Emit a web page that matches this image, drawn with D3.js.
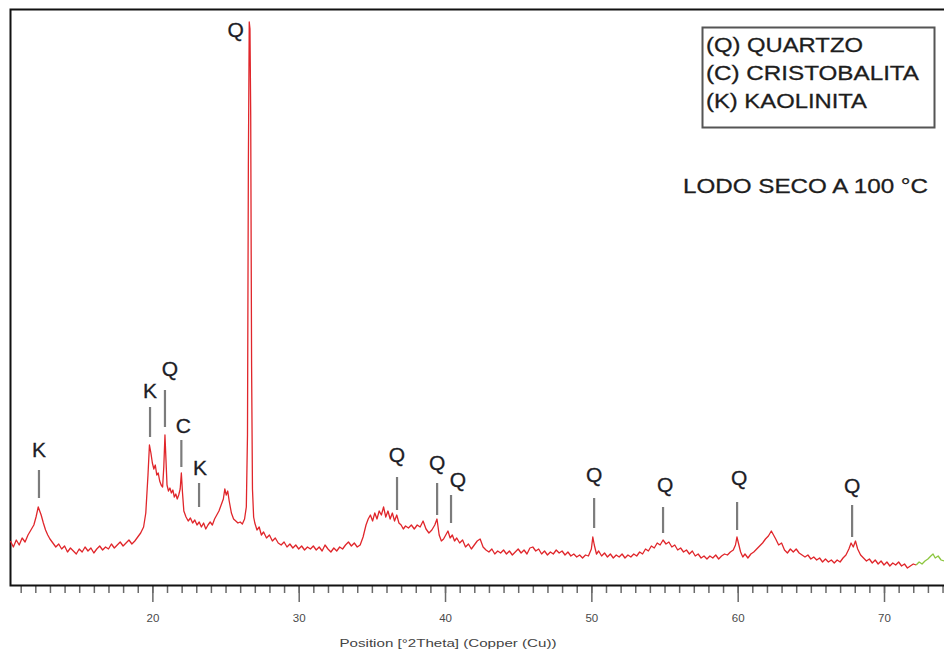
<!DOCTYPE html>
<html>
<head>
<meta charset="utf-8">
<script src="https://cdn.jsdelivr.net/npm/d3@7"></script>
<style>
  html, body { margin: 0; padding: 0; background: #fff; }
  svg { display: block; font-family: "Liberation Sans", Arial, sans-serif; }
</style>
</head>
<body>
<svg id="xrd" width="944" height="652"></svg>
<script>
// XRD pattern — "LODO SECO A 100 °C".
// [2θ (°), intensity in arbitrary units].
const pattern = [
  [10.3, 44], [10.5, 38], [10.7, 45], [10.9, 40], [11.1, 47], [11.3, 43], [11.5, 50], [11.7, 55],
  [11.9, 60], [12.05, 68], [12.2, 78], [12.3, 74], [12.4, 70], [12.55, 62], [12.7, 55], [12.85, 50],
  [13.0, 46], [13.2, 42], [13.4, 38], [13.6, 41], [13.8, 36], [14.0, 39], [14.2, 33], [14.4, 37],
  [14.6, 34], [14.8, 31], [15.0, 36], [15.2, 33], [15.4, 38], [15.6, 34], [15.8, 37], [16.0, 32],
  [16.2, 36], [16.4, 39], [16.6, 35], [16.8, 38], [17.0, 36], [17.2, 41], [17.4, 37], [17.6, 40],
  [17.8, 43], [18.0, 39], [18.2, 42], [18.4, 45], [18.6, 41], [18.8, 44], [19.0, 48], [19.2, 52],
  [19.4, 58], [19.55, 72], [19.7, 110], [19.8, 140], [19.9, 132], [20.0, 122], [20.1, 116], [20.2, 120],
  [20.3, 110], [20.4, 112], [20.5, 104], [20.6, 100], [20.7, 98], [20.78, 118], [20.86, 150], [20.93, 125],
  [21.0, 100], [21.1, 94], [21.2, 97], [21.3, 92], [21.4, 95], [21.5, 88], [21.6, 91], [21.7, 86],
  [21.8, 90], [21.9, 96], [21.98, 112], [22.06, 92], [22.15, 74], [22.3, 68], [22.45, 64], [22.6, 67],
  [22.75, 62], [22.9, 65], [23.05, 60], [23.2, 63], [23.35, 58], [23.5, 62], [23.65, 56], [23.8, 60],
  [23.95, 63], [24.1, 60], [24.25, 66], [24.4, 70], [24.55, 74], [24.7, 80], [24.85, 86], [24.95, 96],
  [25.05, 90], [25.15, 94], [25.25, 84], [25.4, 72], [25.55, 66], [25.7, 64], [25.85, 62], [26.0, 63],
  [26.15, 61], [26.3, 66], [26.42, 78], [26.5, 150], [26.56, 420], [26.62, 563], [26.67, 556], [26.72, 470],
  [26.78, 220], [26.84, 96], [26.92, 68], [27.0, 62], [27.15, 55], [27.3, 58], [27.45, 50], [27.6, 53],
  [27.8, 47], [28.0, 50], [28.2, 44], [28.4, 47], [28.6, 42], [28.8, 40], [29.0, 43], [29.2, 38],
  [29.4, 41], [29.6, 37], [29.8, 40], [30.0, 36], [30.2, 39], [30.4, 35], [30.6, 38], [30.8, 36],
  [31.0, 39], [31.2, 35], [31.4, 38], [31.6, 34], [31.8, 40], [32.0, 36], [32.2, 33], [32.4, 37],
  [32.6, 34], [32.8, 38], [33.0, 36], [33.2, 40], [33.4, 43], [33.6, 39], [33.8, 42], [34.0, 38],
  [34.2, 40], [34.4, 48], [34.6, 60], [34.75, 66], [34.9, 70], [35.05, 64], [35.2, 72], [35.35, 66],
  [35.5, 74], [35.65, 70], [35.8, 78], [35.95, 68], [36.1, 74], [36.25, 66], [36.4, 72], [36.55, 64],
  [36.7, 70], [36.85, 62], [37.0, 60], [37.15, 56], [37.3, 59], [37.5, 57], [37.7, 60], [37.9, 56],
  [38.1, 60], [38.3, 58], [38.5, 64], [38.7, 56], [38.9, 52], [39.1, 55], [39.3, 60], [39.45, 66],
  [39.6, 50], [39.75, 44], [39.9, 46], [40.05, 50], [40.2, 54], [40.35, 47], [40.5, 50], [40.65, 44],
  [40.8, 47], [41.0, 42], [41.2, 45], [41.4, 38], [41.6, 41], [41.8, 36], [42.0, 40], [42.2, 44],
  [42.4, 46], [42.6, 38], [42.8, 35], [43.0, 33], [43.2, 36], [43.4, 31], [43.6, 34], [43.8, 32],
  [44.0, 35], [44.2, 31], [44.4, 34], [44.6, 30], [44.8, 33], [45.0, 36], [45.2, 32], [45.4, 35],
  [45.6, 31], [45.8, 37], [46.0, 38], [46.2, 34], [46.4, 36], [46.6, 31], [46.8, 34], [47.0, 30],
  [47.2, 33], [47.4, 31], [47.6, 35], [47.8, 32], [48.0, 34], [48.2, 30], [48.4, 33], [48.6, 29],
  [48.8, 31], [49.0, 28], [49.2, 30], [49.4, 27], [49.6, 30], [49.8, 29], [50.0, 36], [50.1, 48],
  [50.2, 40], [50.35, 31], [50.5, 34], [50.7, 29], [50.9, 32], [51.1, 28], [51.3, 31], [51.5, 27],
  [51.7, 30], [51.9, 28], [52.1, 31], [52.3, 27], [52.5, 30], [52.7, 28], [52.9, 31], [53.1, 29],
  [53.3, 33], [53.5, 31], [53.7, 36], [53.9, 34], [54.1, 39], [54.3, 37], [54.5, 42], [54.7, 40],
  [54.9, 45], [55.1, 41], [55.3, 43], [55.5, 38], [55.7, 40], [55.9, 35], [56.1, 37], [56.3, 33],
  [56.5, 35], [56.7, 31], [56.9, 34], [57.1, 29], [57.3, 31], [57.5, 27], [57.7, 29], [57.9, 26],
  [58.1, 29], [58.3, 27], [58.5, 30], [58.7, 26], [58.9, 29], [59.1, 31], [59.3, 30], [59.5, 33],
  [59.7, 35], [59.85, 40], [59.95, 48], [60.05, 42], [60.2, 33], [60.35, 28], [60.5, 31], [60.7, 27],
  [60.9, 31], [61.1, 33], [61.3, 36], [61.5, 39], [61.7, 42], [61.9, 46], [62.1, 49], [62.3, 54],
  [62.45, 50], [62.6, 46], [62.8, 40], [63.0, 42], [63.2, 35], [63.4, 32], [63.6, 36], [63.8, 33],
  [64.0, 36], [64.2, 32], [64.4, 30], [64.6, 28], [64.8, 30], [65.0, 26], [65.2, 28], [65.4, 25],
  [65.6, 27], [65.8, 23], [66.0, 26], [66.2, 23], [66.4, 25], [66.6, 22], [66.8, 25], [67.0, 23],
  [67.2, 27], [67.4, 30], [67.6, 36], [67.75, 42], [67.9, 38], [68.05, 44], [68.2, 36], [68.4, 30],
  [68.6, 27], [68.8, 24], [69.0, 26], [69.2, 22], [69.4, 25], [69.6, 21], [69.8, 24], [70.0, 20],
  [70.2, 23], [70.4, 19], [70.6, 22], [70.8, 20], [71.0, 23], [71.2, 19], [71.4, 21], [71.6, 17],
  [71.8, 19], [72.0, 21], [72.2, 20]
];

// tail of the scan, drawn in the second (green) colour
const patternTail = [
  [72.2, 20], [72.4, 23], [72.6, 21], [72.8, 24], [73.0, 26], [73.2, 29], [73.35, 31], [73.5, 27],
  [73.7, 29], [73.9, 25], [74.1, 24]
];

// peak markers: phase letter, 2θ, marker top / bottom and label baseline (intensity units)
const peakPhase = ["K", "K", "Q", "C", "K", "Q", "Q", "Q", "Q", "Q", "Q", "Q", "Q"];
const peakTheta = [12.25, 19.84, 20.86, 21.98, 23.19, 26.65, 36.72, 39.46, 40.41, 50.19, 54.9, 59.96, 67.82];
const peakTop = [115, 178, 195, 145, 102, null, 108, 102, 90, 87, 78, 83, 80];
const peakBottom = [87, 148, 158, 118, 78, null, 75, 70, 62, 57, 52, 55, 48];
const peakLabel = [128, 187, 209, 152, 110, 548, 123, 115, 98, 103, 93, 100, 92];

const legendLines = ["(Q) QUARTZO", "(C) CRISTOBALITA", "(K) KAOLINITA"];
const sampleTitle = "LODO SECO A 100 °C";
const xTitle = "Position [°2Theta] (Copper (Cu))";
const majorTicks = [20, 30, 40, 50, 60, 70];
const minorTicks = d3.range(11, 75);

const X_DOMAIN = [10.27, 74.1];
const Y_DOMAIN = [0, 576];

const svg = d3.select("#xrd");
const x = d3.scaleLinear().domain(X_DOMAIN).range([10, 944]);
const y = d3.scaleLinear().domain(Y_DOMAIN).range([585, 9]);

// ---------- axis ----------
const axisG = svg.append("g").attr("transform", "translate(0,586)");
axisG.append("g")
  .call(d3.axisBottom(x).tickValues(minorTicks).tickSize(7).tickFormat(""))
  .call((g) => g.select(".domain").remove())
  .call((g) => g.selectAll("line").attr("stroke", "#6a6a6a").attr("stroke-width", 1.5));
axisG.append("g")
  .call(d3.axisBottom(x).tickValues(majorTicks).tickSize(16).tickPadding(12))
  .call((g) => g.select(".domain").remove())
  .call((g) => g.selectAll("line").attr("stroke", "#6a6a6a").attr("stroke-width", 1.5))
  .call((g) => g.selectAll("text")
    .attr("fill", "#4a4a4a")
    .attr("font-size", 11.5)
    .attr("font-family", "'Liberation Sans', Arial, sans-serif"));

svg.append("text")
  .attr("x", 448).attr("y", 647)
  .attr("text-anchor", "middle")
  .attr("font-size", 11.5)
  .attr("fill", "#444")
  .attr("textLength", 217)
  .attr("lengthAdjust", "spacingAndGlyphs")
  .text(xTitle);

// ---------- frame ----------
svg.append("path")
  .attr("d", "M944,9.5H10.5V585.5H944")
  .attr("fill", "none")
  .attr("stroke", "#111")
  .attr("stroke-width", 2);

// ---------- pattern ----------
const line = d3.line().x((d) => x(d[0])).y((d) => y(d[1]));
svg.append("path")
  .datum(pattern)
  .attr("d", line)
  .attr("fill", "none")
  .attr("stroke", "#e0262b")
  .attr("stroke-width", 1.3)
  .attr("stroke-linejoin", "round");
svg.append("path")
  .datum(patternTail)
  .attr("d", line)
  .attr("fill", "none")
  .attr("stroke", "#8cc63f")
  .attr("stroke-width", 1.3)
  .attr("stroke-linejoin", "round");

// ---------- peak markers ----------
// small horizontal nudges so each letter sits where the original put it
const labelNudge = [0, 0, 5, 2, 1, -14, 0, 0, 7, 0, 2, 2, 0];
const peaks = peakPhase.map((p, i) => ({
  phase: p, theta: peakTheta[i], top: peakTop[i], bottom: peakBottom[i],
  label: peakLabel[i], dx: labelNudge[i],
}));

const peakG = svg.append("g");
peakG.selectAll("line")
  .data(peaks.filter((d) => d.top != null))
  .join("line")
  .attr("x1", (d) => x(d.theta)).attr("x2", (d) => x(d.theta))
  .attr("y1", (d) => y(d.top)).attr("y2", (d) => y(d.bottom))
  .attr("stroke", "#7c7c7c")
  .attr("stroke-width", 2.2);
peakG.selectAll("text")
  .data(peaks)
  .join("text")
  .attr("x", (d) => x(d.theta) + d.dx)
  .attr("y", (d) => y(d.label))
  .attr("text-anchor", "middle")
  .attr("font-size", 21)
  .attr("fill", "#1d1d26")
  .attr("stroke", "#1d1d26")
  .attr("stroke-width", 0.3)
  .text((d) => d.phase);

// ---------- legend ----------
svg.append("rect")
  .attr("x", 702.5).attr("y", 27.5)
  .attr("width", 232).attr("height", 100)
  .attr("fill", "#fff")
  .attr("stroke", "#555")
  .attr("stroke-width", 2);
const legendWidths = [157, 213, 161];
svg.append("g").selectAll("text")
  .data(legendLines)
  .join("text")
  .attr("x", 706)
  .attr("y", (d, i) => 52 + i * 28)
  .attr("font-size", 21)
  .attr("fill", "#1d1d1d")
  .attr("stroke", "#1d1d1d")
  .attr("stroke-width", 0.3)
  .attr("textLength", (d, i) => legendWidths[i])
  .attr("lengthAdjust", "spacingAndGlyphs")
  .text((d) => d);

svg.append("text")
  .attr("x", 683).attr("y", 193)
  .attr("font-size", 21)
  .attr("fill", "#1d1d1d")
  .attr("stroke", "#1d1d1d")
  .attr("stroke-width", 0.3)
  .attr("textLength", 245)
  .attr("lengthAdjust", "spacingAndGlyphs")
  .text(sampleTitle);
</script>
</body>
</html>
